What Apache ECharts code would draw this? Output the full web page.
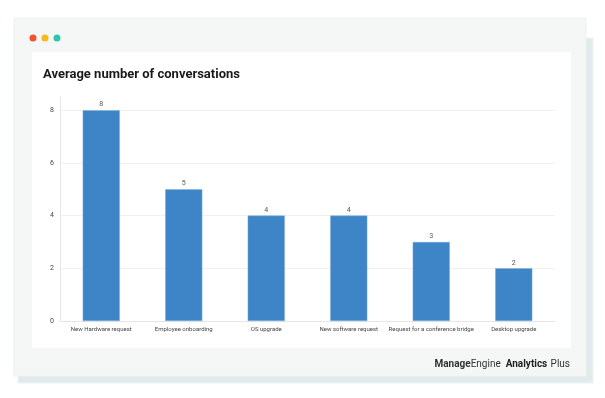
<!DOCTYPE html>
<html>
<head>
<meta charset="utf-8">
<script src="https://cdn.jsdelivr.net/npm/echarts@6/dist/echarts.min.js"></script>
<style>
  html, body { margin: 0; padding: 0; background: #fff; }
  #chart { width: 605px; height: 398px; }
</style>
</head>
<body>
<div id="chart"></div>
<script>
const categories = [
  'New Hardware request',
  'Employee onboarding',
  'OS upgrade',
  'New software request',
  'Request for a conference bridge',
  'Desktop upgrade'
];
const conversations = [8, 5, 4, 4, 3, 2];
const yTicks = [0, 2, 4, 6, 8];

const chart = echarts.init(document.getElementById('chart'));

const options = {
  backgroundColor: '#ffffff',
  animation: false,
  graphic: [
    // shadow card behind
    { type: 'rect', z: -10, shape: { x: 18, y: 38, width: 575, height: 345 }, style: { fill: '#e2ebeb', stroke: '#eef3f3' } },
    // outer grey card
    { type: 'rect', z: -9, shape: { x: 14, y: 18, width: 572, height: 358 }, style: { fill: '#f5f7f7', stroke: '#eef1f1' } },
    // inner white panel
    { type: 'rect', z: -8, shape: { x: 32, y: 52, width: 539, height: 296 }, style: { fill: '#ffffff' } },
    // window dots
    { type: 'circle', shape: { cx: 33, cy: 38, r: 3.5 }, style: { fill: '#f0532d' } },
    { type: 'circle', shape: { cx: 45, cy: 38, r: 3.5 }, style: { fill: '#f9b81d' } },
    { type: 'circle', shape: { cx: 57, cy: 38, r: 3.5 }, style: { fill: '#2ec4b0' } },
    // branding
    {
      type: 'text', right: 35, top: 358,
      style: {
        text: '{a|Manage}{b|Engine}{c|  Analytics} {d|Plus}',
        rich: {
          a: { fontFamily: 'Roboto', fontSize: 10, fontWeight: 'bold', fill: '#333' },
          b: { fontFamily: 'Roboto', fontSize: 10, fill: '#333' },
          c: { fontFamily: 'Roboto', fontSize: 10, fontWeight: 'bold', fill: '#222' },
          d: { fontFamily: 'Roboto', fontSize: 10, fill: '#333' }
        }
      }
    }
  ],
  title: {
    text: 'Average number of conversations',
    left: 38,
    top: 63,
    textStyle: { fontFamily: 'Roboto', fontSize: 13, fontWeight: 'bold', color: '#1a1a1a' }
  },
  grid: { left: 60, right: 50, top: 97, bottom: 77, containLabel: false },
  xAxis: {
    type: 'category',
    data: categories,
    axisLine: { lineStyle: { color: '#e6e6e6', width: 1 } },
    axisTick: { show: false },
    axisLabel: { fontFamily: 'Roboto', fontSize: 6, color: '#444', margin: 5, interval: 0 }
  },
  yAxis: {
    type: 'value',
    min: 0,
    max: 8.5,
    interval: 2,
    axisLine: { show: true, lineStyle: { color: '#e6e6e6', width: 1 } },
    axisTick: { show: false },
    axisLabel: {
      fontFamily: 'Roboto', fontSize: 7, color: '#444', margin: 6,
      showMaxLabel: false,
      formatter: v => (yTicks.includes(v) ? String(v) : '')
    },
    splitLine: { showMaxLine: false, lineStyle: { color: '#f0f0f0' } }
  },
  series: [
    {
      name: 'Average number of conversations',
      type: 'bar',
      data: conversations,
      barWidth: '45%',
      itemStyle: { color: '#3d85c6', borderColor: '#7fb0de', borderWidth: 0.5 },
      label: { show: true, position: 'top', distance: 2, fontFamily: 'Roboto', fontSize: 7, color: '#555' }
    }
  ]
};

chart.setOption(options);
</script>
</body>
</html>
